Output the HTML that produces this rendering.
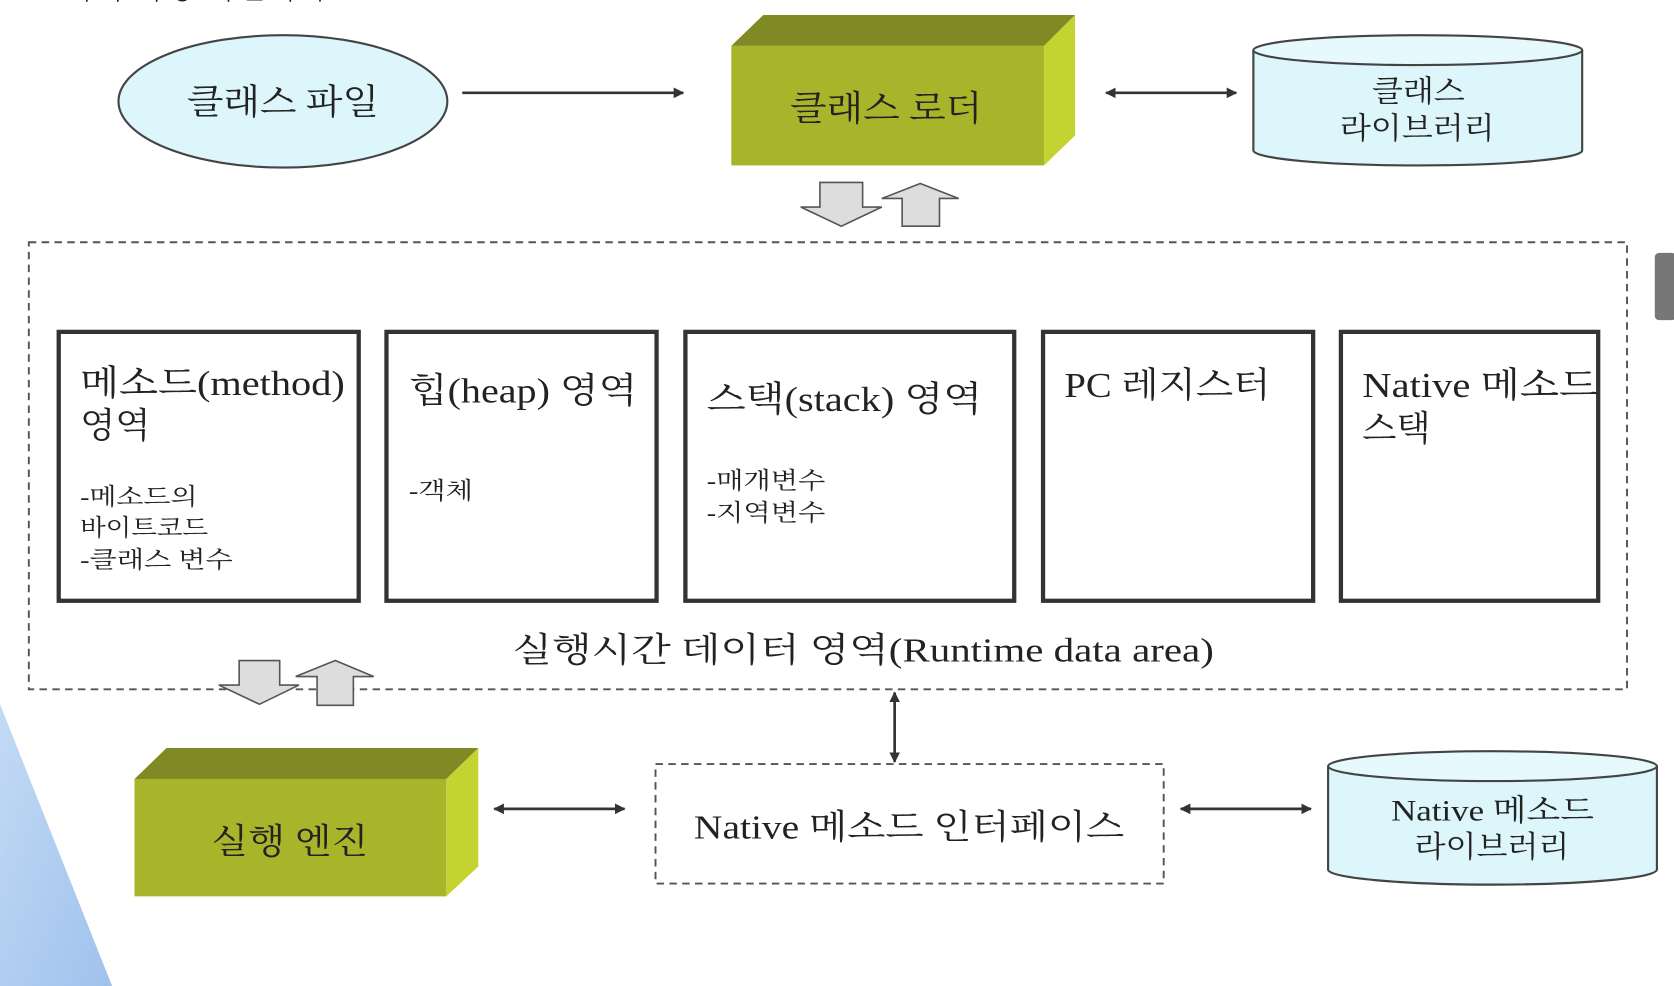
<!DOCTYPE html>
<html><head><meta charset="utf-8"><style>
html,body{margin:0;padding:0;background:#fff;}
svg{display:block;}
text{font-family:"Liberation Serif","Noto Serif CJK SC","Noto Sans CJK KR",serif;fill:#222;}
</style></head><body>
<svg width="1674" height="986" viewBox="0 0 1568 924" preserveAspectRatio="none" xmlns="http://www.w3.org/2000/svg">
<defs>
<marker id="ah" markerWidth="10" markerHeight="10" refX="9" refY="5" orient="auto-start-reverse" markerUnits="userSpaceOnUse"><path d="M0,0 L10,5 L0,10 Z" fill="#333"/></marker>
<linearGradient id="bl" x1="0" y1="0" x2="1" y2="1"><stop offset="0" stop-color="#c3daf5"/><stop offset="1" stop-color="#9fc2ec"/></linearGradient>
</defs>
<rect width="1568" height="924" fill="#fff"/>
<polygon points="0,660 105,924 0,924" fill="url(#bl)"/>
<text x="60" y="-2" font-size="30" fill="#bbb">자바 가상 머신의 구조</text>

<ellipse cx="265" cy="95" rx="154" ry="62" fill="#dcf6fb" stroke="#444" stroke-width="2"/>
<text x="175" y="107" font-size="33" textLength="180" lengthAdjust="spacingAndGlyphs">클래스 파일</text>
<line x1="433" y1="87" x2="640" y2="87" stroke="#333" stroke-width="2.5" marker-end="url(#ah)"/>

<polygon points="685,43 715,14 1007,14 978,43" fill="#7f8a24"/>
<polygon points="978,43 1007,14 1007,127 978,155" fill="#c4d330"/>
<rect x="685" y="43" width="293" height="112" fill="#a8b52a"/>
<text x="740" y="113" font-size="33" textLength="180" lengthAdjust="spacingAndGlyphs">클래스 로더</text>
<line x1="1036" y1="87" x2="1158" y2="87" stroke="#333" stroke-width="2.5" marker-start="url(#ah)" marker-end="url(#ah)"/>

<path d="M1174,47 L1174,141 A154,14 0 0 0 1482,141 L1482,47" fill="#dcf6fb" stroke="#444" stroke-width="2"/>
<ellipse cx="1328" cy="47" rx="154" ry="14" fill="#e6f9fc" stroke="#444" stroke-width="2"/>
<text x="1285" y="95" font-size="28" textLength="87" lengthAdjust="spacingAndGlyphs">클래스</text>
<text x="1255" y="130" font-size="28" textLength="145" lengthAdjust="spacingAndGlyphs">라이브러리</text>

<polygon points="768,171 808,171 808,194 826,194 788,212 750,194 768,194" fill="#ddd" stroke="#555" stroke-width="1.5"/>
<polygon points="845,212 880,212 880,186 898,186 862,172 826,186 845,186" fill="#ddd" stroke="#555" stroke-width="1.5"/>

<rect x="27" y="227" width="1497" height="419" fill="none" stroke="#555" stroke-width="1.8" stroke-dasharray="7,5"/>
<rect x="1550" y="237" width="20" height="63" rx="4" fill="#777"/>

<g fill="#fff" stroke="#333" stroke-width="4">
<rect x="55" y="311" width="281" height="252"/>
<rect x="362" y="311" width="253" height="252"/>
<rect x="642" y="311" width="308" height="252"/>
<rect x="977" y="311" width="253" height="252"/>
<rect x="1256" y="311" width="241" height="252"/>
</g>
<text x="75" y="370" font-size="33" textLength="248" lengthAdjust="spacingAndGlyphs">메소드(method)</text>
<text x="75" y="410" font-size="33" textLength="66" lengthAdjust="spacingAndGlyphs">영역</text>
<text x="75" y="473" font-size="22" textLength="110" lengthAdjust="spacingAndGlyphs">-메소드의</text>
<text x="75" y="502" font-size="22" textLength="120" lengthAdjust="spacingAndGlyphs">바이트코드</text>
<text x="75" y="532" font-size="22" textLength="143" lengthAdjust="spacingAndGlyphs">-클래스 변수</text>
<text x="383" y="377" font-size="33" textLength="214" lengthAdjust="spacingAndGlyphs">힙(heap) 영역</text>
<text x="383" y="467" font-size="22" textLength="60" lengthAdjust="spacingAndGlyphs">-객체</text>
<text x="662" y="385" font-size="33" textLength="258" lengthAdjust="spacingAndGlyphs">스택(stack) 영역</text>
<text x="662" y="458" font-size="22" textLength="111" lengthAdjust="spacingAndGlyphs">-매개변수</text>
<text x="662" y="488" font-size="22" textLength="111" lengthAdjust="spacingAndGlyphs">-지역변수</text>
<text x="997" y="372" font-size="33" textLength="193" lengthAdjust="spacingAndGlyphs">PC 레지스터</text>
<text x="1276" y="372" font-size="33" textLength="221" lengthAdjust="spacingAndGlyphs">Native 메소드</text>
<text x="1276" y="413" font-size="33" textLength="64" lengthAdjust="spacingAndGlyphs">스택</text>

<text x="480" y="620" font-size="32" textLength="657" lengthAdjust="spacingAndGlyphs">실행시간 데이터 영역(Runtime data area)</text>

<polygon points="224,619 262,619 262,642 280,642 243,660 205,642 224,642" fill="#ddd" stroke="#555" stroke-width="1.5"/>
<polygon points="297,661 331,661 331,634 350,634 314,619 277,634 297,634" fill="#ddd" stroke="#555" stroke-width="1.5"/>

<line x1="838" y1="649" x2="838" y2="714" stroke="#333" stroke-width="2.5" marker-start="url(#ah)" marker-end="url(#ah)"/>

<polygon points="126,730 156,701 448,701 418,730" fill="#7f8a24"/>
<polygon points="418,730 448,701 448,812 418,840" fill="#c4d330"/>
<rect x="126" y="730" width="292" height="110" fill="#a8b52a"/>
<text x="198" y="800" font-size="33" textLength="147" lengthAdjust="spacingAndGlyphs">실행 엔진</text>
<line x1="463" y1="758" x2="585" y2="758" stroke="#333" stroke-width="2.5" marker-start="url(#ah)" marker-end="url(#ah)"/>

<rect x="614" y="716" width="476" height="112" fill="#fff" stroke="#555" stroke-width="1.8" stroke-dasharray="7,5"/>
<text x="650" y="786" font-size="32" textLength="403" lengthAdjust="spacingAndGlyphs">Native 메소드 인터페이스</text>
<line x1="1106" y1="758" x2="1228" y2="758" stroke="#333" stroke-width="2.5" marker-start="url(#ah)" marker-end="url(#ah)"/>

<path d="M1244,718 L1244,815 A154,14 0 0 0 1552,815 L1552,718" fill="#dcf6fb" stroke="#444" stroke-width="2"/>
<ellipse cx="1398" cy="718" rx="154" ry="14" fill="#e6f9fc" stroke="#444" stroke-width="2"/>
<text x="1303" y="769" font-size="28" textLength="190" lengthAdjust="spacingAndGlyphs">Native 메소드</text>
<text x="1325" y="803" font-size="28" textLength="145" lengthAdjust="spacingAndGlyphs">라이브러리</text>
</svg>
</body></html>
